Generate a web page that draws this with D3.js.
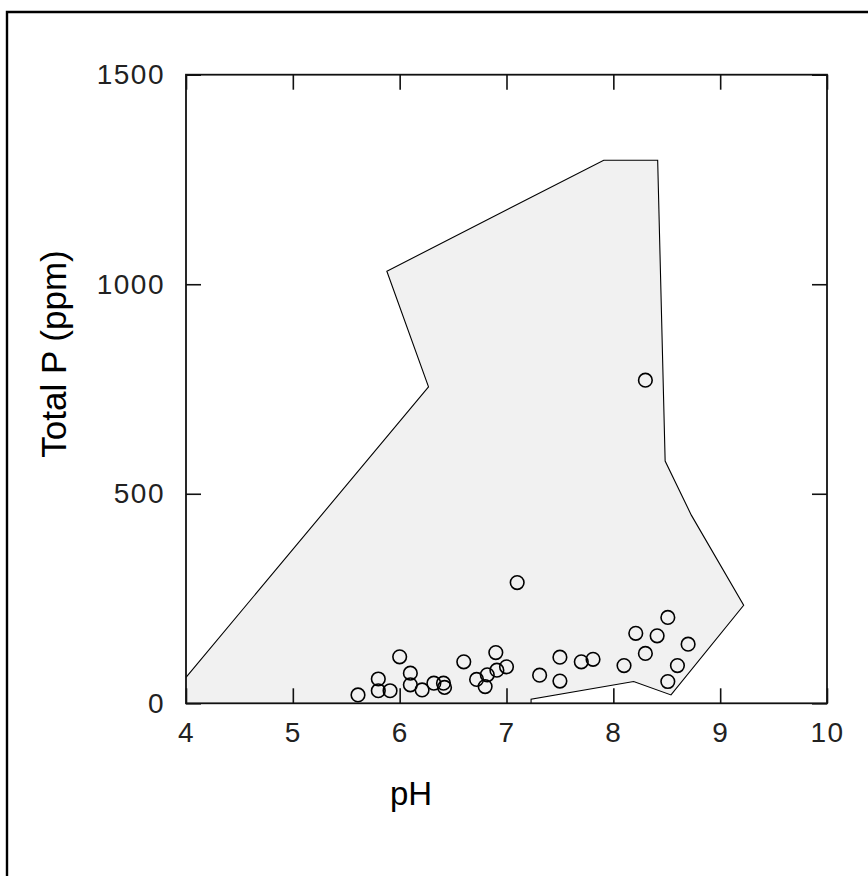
<!DOCTYPE html>
<html>
<head>
<meta charset="utf-8">
<script src="https://cdn.jsdelivr.net/npm/d3@7"></script>
<style>
  html, body { margin: 0; padding: 0; background: #fff; }
  svg { display: block; }
</style>
</head>
<body>
<script>
// ---- Data ----
const xTicks = [4, 5, 6, 7, 8, 9, 10];
const yTicks = [0, 500, 1000, 1500];

// Envelope polygon (pH, Total P)
const hullPH = [4, 6.27, 5.88, 7.91, 8.415, 8.485, 8.73, 9.22, 8.54, 8.19, 7.23, 7.23, 4];
const hullP  = [62, 755, 1031, 1296, 1296, 578, 449, 234, 20, 52, 10, 0, 0];

// Observed samples
const samplePH = [8.30, 7.10, 5.61, 5.80, 5.80, 5.91, 6.00, 6.10, 6.10, 6.21, 6.32, 6.41, 6.42,
                  6.60, 6.90, 7.00, 6.91, 6.82, 6.72, 6.80, 7.31, 7.50, 7.50, 7.70, 7.81,
                  8.10, 8.21, 8.41, 8.30, 8.51, 8.70, 8.60, 8.51];
const sampleP  = [771, 288, 20, 58, 30, 30, 111, 72, 44, 32, 48, 48, 38,
                  99, 121, 87, 79, 68, 57, 40, 67, 110, 53, 99, 105,
                  90, 167, 161, 119, 205, 141, 90, 52];

const xLabel = "pH";
const yLabel = "Total P (ppm)";

// ---- Drawing ----
const W = 868, H = 876;
const svg = d3.select("body").append("svg").attr("width", W).attr("height", H);

// outer frame (only top/left visible)
svg.append("path")
  .attr("d", `M7,${H + 5} V12 H${W + 5}`)
  .attr("fill", "none").attr("stroke", "#000").attr("stroke-width", 2.4);

const pLeft = 186, pRight = 827, pTop = 74.7, pBottom = 703.3;
const x = d3.scaleLinear().domain([4, 10]).range([pLeft, pRight]);
const y = d3.scaleLinear().domain([0, 1500]).range([pBottom, pTop]);

const g = svg.append("g");

// envelope
const hull = hullPH.map((v, i) => [x(v), y(hullP[i])]);
g.append("path")
  .attr("d", d3.line()(hull) + "Z")
  .attr("fill", "#f1f1f1")
  .attr("stroke", "none");
// outline except the segments lying on axes
g.append("path")
  .attr("d", d3.line()(hull.slice(0, 12)))
  .attr("fill", "none")
  .attr("stroke", "#000")
  .attr("stroke-width", 1.1);

// samples
g.selectAll("circle.pt")
  .data(samplePH.map((v, i) => [v, sampleP[i]]))
  .join("circle")
  .attr("class", "pt")
  .attr("cx", d => x(d[0]))
  .attr("cy", d => y(d[1]))
  .attr("r", 6.8)
  .attr("fill", "none")
  .attr("stroke", "#000")
  .attr("stroke-width", 1.6);

// plot frame
g.append("rect")
  .attr("x", pLeft).attr("y", pTop)
  .attr("width", pRight - pLeft).attr("height", pBottom - pTop)
  .attr("fill", "none").attr("stroke", "#111").attr("stroke-width", 1.8);

const tickFont = "'Liberation Sans', Arial, sans-serif";

function styleAxis(sel) {
  sel.select(".domain").remove();
  sel.selectAll(".tick line").attr("stroke", "#111").attr("stroke-width", 1.6);
  sel.selectAll(".tick text")
    .attr("font-family", tickFont)
    .attr("font-size", 28)
    .attr("letter-spacing", 1.5)
    .attr("fill", "#222");
}

svg.append("g").attr("transform", `translate(0,${pBottom})`)
  .call(d3.axisBottom(x).tickValues(xTicks).tickSize(-15).tickSizeOuter(0).tickPadding(19).tickFormat(d3.format("d")))
  .call(styleAxis);
svg.append("g").attr("transform", `translate(0,${pTop})`)
  .call(d3.axisTop(x).tickValues(xTicks).tickSize(-15).tickSizeOuter(0).tickFormat(""))
  .call(styleAxis);
svg.append("g").attr("transform", `translate(${pLeft},0)`)
  .call(d3.axisLeft(y).tickValues(yTicks).tickSize(-15).tickSizeOuter(0).tickPadding(21).tickFormat(d3.format("d")))
  .call(styleAxis);
svg.append("g").attr("transform", `translate(${pRight},0)`)
  .call(d3.axisRight(y).tickValues(yTicks).tickSize(-15).tickSizeOuter(0).tickFormat(""))
  .call(styleAxis);

// axis titles
svg.append("text")
  .attr("x", 411).attr("y", 805)
  .attr("text-anchor", "middle")
  .attr("font-family", tickFont)
  .attr("font-size", 33)
  .attr("fill", "#000")
  .text(xLabel);

svg.append("text")
  .attr("transform", "translate(66,354) rotate(-90)")
  .attr("text-anchor", "middle")
  .attr("font-family", tickFont)
  .attr("font-size", 35)
  .attr("fill", "#000")
  .text(yLabel);
</script>
</body>
</html>
